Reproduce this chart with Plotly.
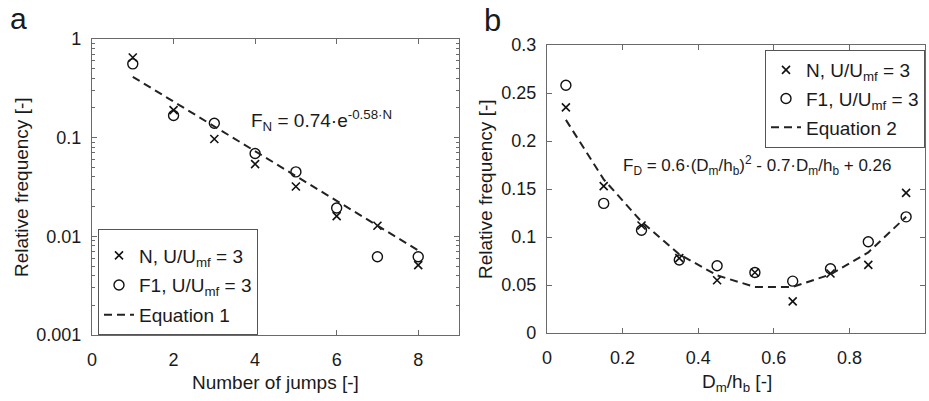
import plotly.graph_objects as go

# ---- data: panel a ----
jumps = [1, 2, 3, 4, 5, 6, 7, 8]
freq_N_a = [0.65, 0.19, 0.097, 0.054, 0.032, 0.016, 0.0128, 0.0051]
freq_F1_a = [0.56, 0.168, 0.14, 0.069, 0.045, 0.0194, 0.0062, 0.0062]
eq1_x = [1, 2, 3, 4, 5, 6, 7, 8]
eq1_y = [0.414, 0.232, 0.130, 0.0727, 0.0407, 0.0228, 0.0128, 0.0072]

# ---- data: panel b ----
dm_hb = [0.05, 0.15, 0.25, 0.35, 0.45, 0.55, 0.65, 0.75, 0.85, 0.95]
freq_N_b = [0.235, 0.153, 0.112, 0.078, 0.055, 0.063, 0.033, 0.062, 0.071, 0.146]
freq_F1_b = [0.258, 0.135, 0.107, 0.076, 0.070, 0.063, 0.054, 0.067, 0.095, 0.121]
eq2_x = [0.05, 0.15, 0.25, 0.35, 0.45, 0.55, 0.65, 0.75, 0.85, 0.95]
eq2_y = [0.222, 0.160, 0.116, 0.082, 0.060, 0.048, 0.048, 0.061, 0.084, 0.121]

ytick_a_vals = [0.001, 0.01, 0.1, 1]
ytick_a_text = ["0.001", "0.01", "0.1", "1"]
minor_a = [m * 10 ** e for e in (-3, -2, -1) for m in range(2, 10)]

W, H = 929, 401
FONT = "Liberation Sans, Arial, sans-serif"
TXT = "#1a1a1a"
AX = "#6a6a6a"

fig = go.Figure()

lbl_N = "N, U/U<sub>mf</sub> = 3"
lbl_F = "F1, U/U<sub>mf</sub> = 3"

xmk = dict(symbol="x-thin-open", size=8, color="#111", line=dict(width=1.6, color="#111"))
omk = dict(symbol="circle-open", size=10, color="#111", line=dict(width=1.4, color="#111"))
dline = dict(color="#222", width=2, dash="8px,5px")

# panel a
fig.add_trace(go.Scatter(x=jumps, y=freq_N_a, mode="markers", marker=xmk, name=lbl_N,
                         xaxis="x", yaxis="y", legend="legend", legendgroup="a1"))
fig.add_trace(go.Scatter(x=jumps, y=freq_F1_a, mode="markers", marker=omk, name=lbl_F,
                         xaxis="x", yaxis="y", legend="legend", legendgroup="a2"))
fig.add_trace(go.Scatter(x=eq1_x, y=eq1_y, mode="lines", line=dline, name="Equation 1",
                         xaxis="x", yaxis="y", legend="legend", legendgroup="a3"))
# panel b
fig.add_trace(go.Scatter(x=dm_hb, y=freq_N_b, mode="markers", marker=xmk, name=lbl_N,
                         xaxis="x2", yaxis="y2", legend="legend2", legendgroup="b1"))
fig.add_trace(go.Scatter(x=dm_hb, y=freq_F1_b, mode="markers", marker=omk, name=lbl_F,
                         xaxis="x2", yaxis="y2", legend="legend2", legendgroup="b2"))
fig.add_trace(go.Scatter(x=eq2_x, y=eq2_y, mode="lines", line=dline, name="Equation 2",
                         xaxis="x2", yaxis="y2", legend="legend2", legendgroup="b3"))

axcommon = dict(showline=True, linecolor=AX, linewidth=1.2, mirror="allticks",
                ticks="inside", ticklen=5, tickcolor=AX, showgrid=False, zeroline=False,
                tickfont=dict(family=FONT, size=18, color=TXT))

lx = [92 / W, 459 / W]
ly = [1 - 335 / H, 1 - 39 / H]
rx = [547 / W, 925 / W]
ry = [1 - 333 / H, 1 - 45 / H]

leg = dict(font=dict(family=FONT, size=19, color=TXT), bgcolor="white", bordercolor="#555",
           borderwidth=1, itemwidth=30)

fig.update_layout(
    width=W, height=H, margin=dict(l=0, r=0, t=0, b=0, autoexpand=False),
    paper_bgcolor="white", plot_bgcolor="white",
    font=dict(family=FONT, color=TXT),
    xaxis=dict(domain=lx, range=[0, 9], tickvals=[0, 2, 4, 6, 8], anchor="y",
               ticklabelstandoff=8, **axcommon),
    yaxis=dict(domain=ly, type="log", range=[-3, 0], tickvals=ytick_a_vals, ticktext=ytick_a_text,
               anchor="x", ticklabelstandoff=6,
               minor=dict(tickvals=minor_a, ticks="inside", ticklen=3, tickcolor=AX), **axcommon),
    xaxis2=dict(domain=rx, range=[0, 1], dtick=0.2, anchor="y2", ticklabelstandoff=8, **axcommon),
    yaxis2=dict(domain=ry, range=[0, 0.3], dtick=0.05, anchor="x2", ticklabelstandoff=6, **axcommon),
    legend=dict(x=98 / W, y=1 - 229 / H, xanchor="left", yanchor="top", tracegroupgap=2,
                title=dict(text=" ", font=dict(size=5)), **leg),
    legend2=dict(x=925 / W, y=1 - 50 / H, xanchor="right", yanchor="top", tracegroupgap=1, **leg),
)

ann = []
def add(text, x, y, size, xanchor="center", yanchor="middle", angle=0):
    ann.append(dict(text=text, x=x / W, y=1 - y / H, xref="paper", yref="paper", showarrow=False,
                    font=dict(family=FONT, size=size, color=TXT), xanchor=xanchor, yanchor=yanchor,
                    textangle=angle))

add("a", 18, 0, 30, yanchor="top")
add("b", 492, 1, 31, yanchor="top")
add("Number of jumps [-]", 275, 382, 19)
add("D<sub>m</sub>/h<sub>b</sub> [-]", 737, 383, 19)
add("Relative frequency [-]", 22, 187, 19, angle=-90)
add("Relative frequency [-]", 485, 189, 19, angle=-90)
add("F<sub>N</sub> = 0.74·e<sup>-0.58·N</sup>", 249, 120, 19, xanchor="left")
add("F<sub>D</sub> = 0.6·(D<sub>m</sub>/h<sub>b</sub>)<sup>2</sup> - 0.7·D<sub>m</sub>/h<sub>b</sub> + 0.26",
    621, 165, 17, xanchor="left")
fig.update_layout(annotations=ann)

fig.write_html("out.html")
